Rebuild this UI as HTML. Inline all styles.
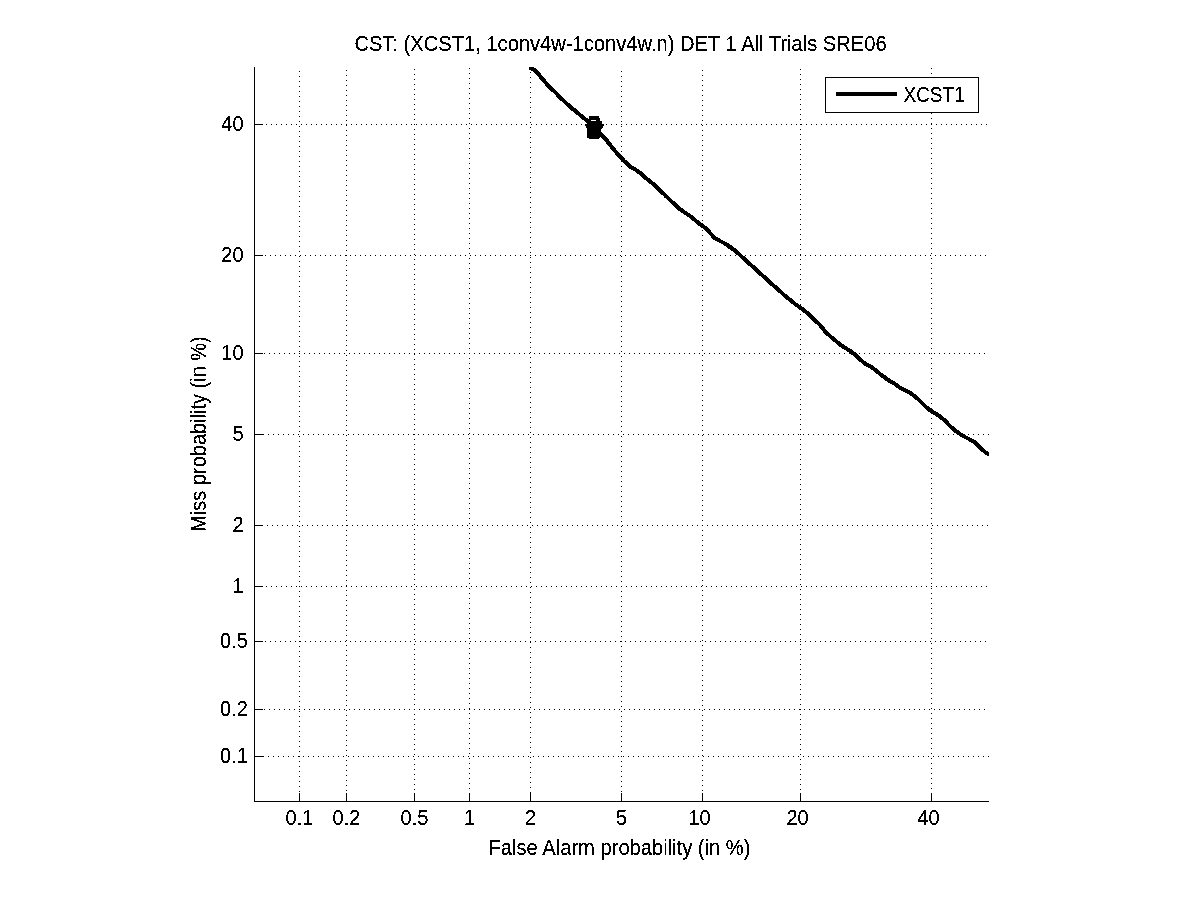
<!DOCTYPE html>
<html><head><meta charset="utf-8"><title>DET plot</title>
<style>html,body{margin:0;padding:0;background:#fff;overflow:hidden}svg{display:block}</style></head>
<body>
<svg width="1201" height="900" viewBox="0 0 1201 900">
<rect width="1201" height="900" fill="#fff"/>
<defs><filter id="bin" x="0" y="0" width="1201" height="900" filterUnits="userSpaceOnUse" color-interpolation-filters="sRGB"><feComponentTransfer><feFuncA type="discrete" tableValues="0 0 1 1 1"/></feComponentTransfer></filter><filter id="bin2" x="0" y="0" width="1201" height="900" filterUnits="userSpaceOnUse" color-interpolation-filters="sRGB"><feComponentTransfer><feFuncA type="discrete" tableValues="0 1"/></feComponentTransfer></filter></defs>
<path d="M299.5 71V801 M346.5 70V801 M414.5 69V801 M469.5 68V801 M530.5 67V801 M621.5 71V801 M702.5 70V801 M800.5 69V801 M931.5 68V801 M258 756.5H989 M259 709.5H989 M255 641.5H989 M256 586.5H989 M257 525.5H989 M258 434.5H989 M259 353.5H989 M255 255.5H989 M256 124.5H989" fill="none" stroke="#000" stroke-width="1" stroke-dasharray="1 4" shape-rendering="crispEdges"/>
<path d="M254.5 67V801.5 M254 801.5H989 M299.5 793V801 M346.5 793V801 M414.5 793V801 M469.5 793V801 M530.5 793V801 M621.5 793V801 M702.5 793V801 M800.5 793V801 M931.5 793V801 M254 756.5H263 M254 709.5H263 M254 641.5H263 M254 586.5H263 M254 525.5H263 M254 434.5H263 M254 353.5H263 M254 255.5H263 M254 124.5H263" fill="none" stroke="#000" stroke-width="1" shape-rendering="crispEdges"/>
<g font-family="Liberation Sans, Arial, sans-serif" fill="#000" filter="url(#bin)">
<text transform="translate(620.5 51) scale(1.0076 1.07)" text-anchor="middle" font-size="20">CST: (XCST1, 1conv4w-1conv4w.n) DET 1 All Trials SRE06</text>
<text transform="translate(299.5 825) scale(1 1.07)" text-anchor="middle" font-size="20">0.1</text>
<text transform="translate(346.5 825) scale(1 1.07)" text-anchor="middle" font-size="20">0.2</text>
<text transform="translate(414.5 825) scale(1 1.07)" text-anchor="middle" font-size="20">0.5</text>
<text transform="translate(469.5 825) scale(1 1.07)" text-anchor="middle" font-size="20">1</text>
<text transform="translate(530.5 825) scale(1 1.07)" text-anchor="middle" font-size="20">2</text>
<text transform="translate(621.5 825) scale(1 1.07)" text-anchor="middle" font-size="20">5</text>
<text transform="translate(699.5 825) scale(1 1.07)" text-anchor="middle" font-size="20">10</text>
<text transform="translate(797.5 825) scale(1 1.07)" text-anchor="middle" font-size="20">20</text>
<text transform="translate(928.5 825) scale(1 1.07)" text-anchor="middle" font-size="20">40</text>
<text transform="translate(220 763) scale(1 1.07)" text-anchor="start" font-size="20">0.1</text>
<text transform="translate(220 716) scale(1 1.07)" text-anchor="start" font-size="20">0.2</text>
<text transform="translate(220 648) scale(1 1.07)" text-anchor="start" font-size="20">0.5</text>
<text transform="translate(243.5 593) scale(1 1.07)" text-anchor="end" font-size="20">1</text>
<text transform="translate(243.5 532) scale(1 1.07)" text-anchor="end" font-size="20">2</text>
<text transform="translate(243.5 441) scale(1 1.07)" text-anchor="end" font-size="20">5</text>
<text transform="translate(243.5 360) scale(1 1.07)" text-anchor="end" font-size="20">10</text>
<text transform="translate(243.5 262) scale(1 1.07)" text-anchor="end" font-size="20">20</text>
<text transform="translate(243.5 131) scale(1 1.07)" text-anchor="end" font-size="20">40</text>
<text transform="translate(619.5 855) scale(1.008 1.07)" text-anchor="middle" font-size="20">False Alarm probability (in %)</text>
<text transform="translate(206 434) rotate(-90) scale(1 1.07)" text-anchor="middle" font-size="20">Miss probability (in %)</text>
</g>
<clipPath id="ax"><rect x="254" y="67" width="735" height="735"/></clipPath>
<path d="M530.5 68.3 L533.0 69.0 L535.0 70.3 L537.0 72.5 L540.0 75.9 L545.0 82.0 L550.0 87.8 L555.0 91.9 L560.0 97.3 L565.0 102.0 L570.0 106.8 L575.0 110.7 L580.0 115.0 L584.3 118.3 L593.0 126.5 L601.7 135.0 L605.0 138.2 L610.0 144.8 L615.0 150.9 L620.0 156.7 L625.0 161.8 L630.0 166.5 L635.0 169.4 L640.0 172.8 L645.0 177.4 L650.0 181.4 L655.0 185.3 L660.0 190.2 L665.0 195.2 L670.0 199.9 L675.0 204.7 L680.0 209.2 L685.0 212.7 L690.0 216.1 L695.0 219.9 L700.0 224.2 L705.0 227.6 L710.0 232.9 L715.0 238.3 L720.0 241.0 L725.0 243.5 L730.0 247.0 L735.0 250.5 L740.0 254.9 L745.0 259.6 L750.0 264.2 L755.0 268.6 L760.0 273.2 L765.0 277.8 L770.0 282.4 L775.0 286.8 L780.0 291.2 L785.0 295.7 L790.0 299.9 L795.0 303.8 L800.0 307.4 L805.0 311.1 L810.0 315.4 L815.0 320.2 L820.0 325.0 L825.0 331.2 L830.0 336.1 L835.0 340.2 L840.0 344.5 L845.0 347.8 L850.0 350.9 L855.0 354.6 L860.0 359.2 L865.0 363.7 L870.0 366.2 L875.0 369.7 L880.0 373.9 L885.0 377.6 L890.0 381.3 L895.0 384.1 L900.0 387.7 L905.0 390.4 L910.0 392.8 L915.0 396.4 L920.0 400.8 L925.0 405.9 L930.0 410.3 L935.0 413.3 L940.0 416.5 L945.0 420.6 L950.0 426.1 L955.0 430.5 L960.0 433.9 L965.0 437.0 L970.0 439.6 L975.0 442.5 L980.0 447.7 L985.0 452.0 L988.4 453.9 L992.0 456.0" fill="none" stroke="#000" stroke-width="4" stroke-linejoin="round" stroke-linecap="round" clip-path="url(#ax)" filter="url(#bin2)"/>
<rect x="589" y="116" width="10" height="2" fill="#000" shape-rendering="crispEdges"/>
<rect x="589" y="118" width="11" height="3" fill="#000" shape-rendering="crispEdges"/>
<rect x="588" y="121" width="14" height="3" fill="#000" shape-rendering="crispEdges"/>
<rect x="585" y="124" width="19" height="2" fill="#000" shape-rendering="crispEdges"/>
<rect x="586" y="126" width="17" height="2" fill="#000" shape-rendering="crispEdges"/>
<rect x="587" y="128" width="15" height="1" fill="#000" shape-rendering="crispEdges"/>
<rect x="587" y="129" width="14" height="7" fill="#000" shape-rendering="crispEdges"/>
<rect x="587" y="136" width="13" height="2" fill="#000" shape-rendering="crispEdges"/>
<rect x="589" y="138" width="10" height="1" fill="#000" shape-rendering="crispEdges"/>
<rect x="591" y="120" width="5" height="1" fill="#fff"/>
<rect x="825.5" y="77.5" width="153" height="35" fill="#fff" stroke="#000" stroke-width="1" shape-rendering="crispEdges"/>
<rect x="836" y="92" width="61" height="4" fill="#000"/>
<g font-family="Liberation Sans, Arial, sans-serif" filter="url(#bin)"><text transform="translate(903.5 102) scale(0.95 1.07)" text-anchor="start" font-size="20">XCST1</text></g>
</svg>
</body></html>
